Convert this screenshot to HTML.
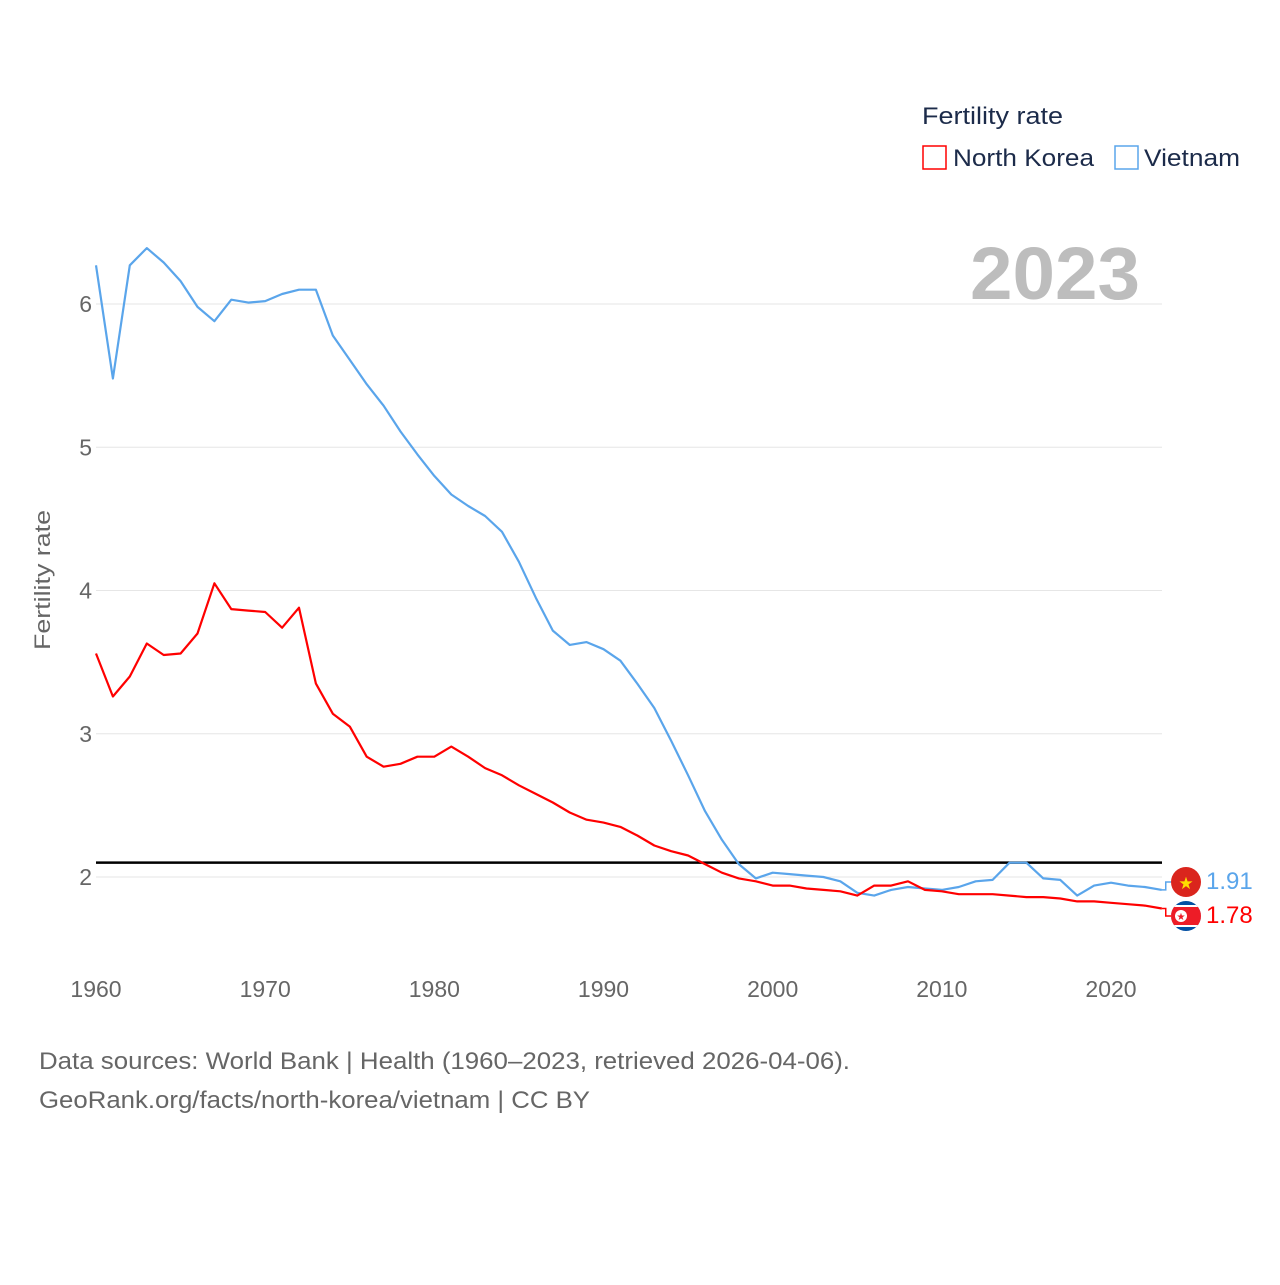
<!DOCTYPE html>
<html><head><meta charset="utf-8"><style>
body{margin:0;background:#fff;font-family:"Liberation Sans",sans-serif;}
svg text{font-family:"Liberation Sans",sans-serif;}
</style></head><body>
<svg id="chart" width="1280" height="1280" xmlns="http://www.w3.org/2000/svg">
<rect width="1280" height="1280" fill="#fff"/>
<g id="grid"></g>
<g id="yt"></g>
<g id="xt"></g>
<text x="1140" y="299" text-anchor="end" font-size="74" font-weight="bold" fill="#bdbdbd" textLength="170" lengthAdjust="spacingAndGlyphs">2023</text>
<text transform="translate(50,580) rotate(-90)" text-anchor="middle" font-size="22" fill="#666" textLength="140" lengthAdjust="spacingAndGlyphs">Fertility rate</text>
<g id="series"></g>
<g>
<text x="922" y="124" font-size="24" fill="#1c2b4a" textLength="141" lengthAdjust="spacingAndGlyphs">Fertility rate</text>
<g><rect x="923" y="146" width="23" height="23" fill="none" stroke="#ff0000" stroke-width="1.5"/><text x="953" y="166" font-size="24" fill="#1c2b4a" textLength="141" lengthAdjust="spacingAndGlyphs">North Korea</text></g>
<g><rect x="1115" y="146" width="23" height="23" fill="none" stroke="#5aa5eb" stroke-width="1.5"/><text x="1144" y="166" font-size="24" fill="#1c2b4a" textLength="96" lengthAdjust="spacingAndGlyphs">Vietnam</text></g>
</g>
<g>
<g><circle cx="1186" cy="882" r="15" fill="#da251d"/><text x="1186" y="889" text-anchor="middle" font-size="17" fill="#ffde00">★</text></g>
<text x="1206" y="889" font-size="24" fill="#5aa5eb">1.91</text>
<g><clipPath id="fc"><circle cx="1186" cy="916" r="15"/></clipPath><g clip-path="url(#fc)"><rect x="1170" y="900" width="32" height="32" fill="#024fa2"/><rect x="1170" y="905" width="32" height="22" fill="#fff"/><rect x="1170" y="907" width="32" height="18" fill="#ed1c27"/><circle cx="1181" cy="916" r="6" fill="#fff"/><text x="1181" y="920" text-anchor="middle" font-size="10" fill="#ed1c27">★</text></g></g>
<text x="1206" y="923" font-size="24" fill="#ff0000">1.78</text>
</g>
<text x="39" y="1069" font-size="24" fill="#666" textLength="811" lengthAdjust="spacingAndGlyphs">Data sources: World Bank | Health (1960–2023, retrieved 2026-04-06).</text>
<text x="39" y="1108" font-size="24" fill="#666" textLength="551" lengthAdjust="spacingAndGlyphs">GeoRank.org/facts/north-korea/vietnam | CC BY</text>
</svg>
<script>
const years=[];for(let y=1960;y<=2023;y++)years.push(y);
const vietnam=[6.27,5.48,6.27,6.39,6.29,6.16,5.98,5.88,6.03,6.01,6.02,6.07,6.10,6.10,5.78,5.61,5.44,5.29,5.11,4.95,4.80,4.67,4.59,4.52,4.41,4.20,3.95,3.72,3.62,3.64,3.59,3.51,3.35,3.18,2.95,2.71,2.46,2.26,2.09,1.99,2.03,2.02,2.01,2.00,1.97,1.89,1.87,1.91,1.93,1.92,1.91,1.93,1.97,1.98,2.10,2.10,1.99,1.98,1.87,1.94,1.96,1.94,1.93,1.91];
const northKorea=[3.56,3.26,3.40,3.63,3.55,3.56,3.70,4.05,3.87,3.86,3.85,3.74,3.88,3.35,3.14,3.05,2.84,2.77,2.79,2.84,2.84,2.91,2.84,2.76,2.71,2.64,2.58,2.52,2.45,2.40,2.38,2.35,2.29,2.22,2.18,2.15,2.09,2.03,1.99,1.97,1.94,1.94,1.92,1.91,1.90,1.87,1.94,1.94,1.97,1.91,1.90,1.88,1.88,1.88,1.87,1.86,1.86,1.85,1.83,1.83,1.82,1.81,1.80,1.78];
const yTicks=[2,3,4,5,6];
const xTicks=[1960,1970,1980,1990,2000,2010,2020];
const referenceLine=2.1;
const NS="http://www.w3.org/2000/svg";
const X=y=>96+(y-1960)*(1111-96)/60;
const Y=v=>877-(v-2)*143.25;
function mk(t,a,p){const e=document.createElementNS(NS,t);for(const k in a)e.setAttribute(k,a[k]);p.appendChild(e);return e;}
const grid=document.getElementById('grid'),yt=document.getElementById('yt'),xt=document.getElementById('xt'),ser=document.getElementById('series');
yTicks.forEach(v=>{
  const l=mk('line',{x1:96,x2:1162,y1:Y(v),y2:Y(v),stroke:'#e6e6e6','stroke-width':1},grid);
  
  
  const t=mk('text',{x:92,y:Y(v)+8,'text-anchor':'end','font-size':23,fill:'#666'},yt);t.textContent=v;
  
  
});
xTicks.forEach(v=>{
  const t=mk('text',{x:X(v),y:997,'text-anchor':'middle','font-size':23,fill:'#666'},xt);t.textContent=v;
  
  
});
const ref=mk('line',{x1:96,x2:1162,y1:Y(referenceLine),y2:Y(referenceLine),stroke:'#000','stroke-width':2.5},ser);


function line(d,c,n){
  const p=mk('path',{d:d.map((v,i)=>(i?'L':'M')+X(years[i]).toFixed(1)+','+Y(v).toFixed(1)).join(''),fill:'none',stroke:c,'stroke-width':2.2,'stroke-linejoin':'round'},ser);
  
  
  return p;
}
line(vietnam,'#5aa5eb','vietnam-line');
line(northKorea,'#ff0000','north-korea-line');
const lv=vietnam[vietnam.length-1],ln=northKorea[northKorea.length-1],xe=X(2023);
const c1=mk('path',{d:`M${xe},${Y(lv)}L${xe+4},${Y(lv)}L${xe+4},882L1171,882`,fill:'none',stroke:'#5aa5eb','stroke-width':1.5},ser);


const c2=mk('path',{d:`M${xe},${Y(ln)}L${xe+4},${Y(ln)}L${xe+4},916L1171,916`,fill:'none',stroke:'#ff0000','stroke-width':1.5},ser);


</script>
</body></html>
